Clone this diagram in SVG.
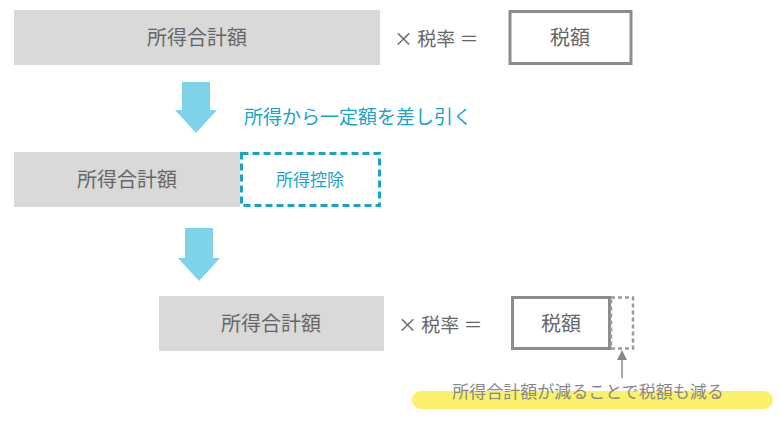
<svg xmlns="http://www.w3.org/2000/svg" width="780" height="430" viewBox="0 0 780 430">
<style>
text{font-family:"Noto Sans CJK JP","Noto Sans",sans-serif;}
.g{fill:#d9d9d9}
.t{fill:#666;font-size:20px;text-anchor:middle}
.op{fill:#666;font-size:19px}
.box{fill:#fff;stroke:#8c8c8c;stroke-width:3}
.arr{fill:#7fd3e8}
</style>
<rect width="780" height="430" fill="#fff"/>
<g id="row1">
<rect class="g" x="14" y="10" width="366" height="55"/>
<text class="t" x="197" y="45">所得合計額</text>
<text class="op" x="394" y="46">× 税率 ＝</text>
<rect class="box" x="510" y="11.5" width="121" height="52"/>
<text class="t" x="570" y="45">税額</text>
</g>
<g id="connectors">
<path class="arr" d="M182 82H210V110H217L196 133L175 110H182Z"/>
<path class="arr" d="M185 228H213V258H220L199 281L178 258H185Z"/>
<line x1="622" y1="378" x2="622" y2="356" stroke="#888" stroke-width="1.5"/>
<path d="M617 360L622 350L627 360Z" fill="#888"/>
</g>
<text x="244" y="124" fill="#1aa3c8" font-size="19">所得から一定額を差し引く</text>
<g id="row2">
<rect class="g" x="14" y="152" width="226" height="55"/>
<text class="t" x="127" y="187">所得合計額</text>
<rect x="241.5" y="153.5" width="138" height="52" fill="none" stroke="#1aa3c8" stroke-width="3" stroke-dasharray="7,4"/>
<text x="310" y="186" fill="#1aa3c8" font-size="17" text-anchor="middle">所得控除</text>
</g>
<g id="row3">
<rect class="g" x="159" y="296" width="225" height="55"/>
<text class="t" x="271" y="331">所得合計額</text>
<text class="op" x="398" y="332">× 税率 ＝</text>
<rect class="box" x="512.5" y="297.5" width="97" height="51"/>
<text class="t" x="561" y="331">税額</text>
<rect x="611" y="297.5" width="22" height="51" fill="none" stroke="#999" stroke-width="2.5" stroke-dasharray="4,3"/>
</g>
<g id="note">
<rect x="412" y="391" width="361" height="18" rx="9" fill="#faf06a"/>
<text x="588" y="398" fill="#888" font-size="17" text-anchor="middle">所得合計額が減ることで税額も減る</text>
</g>
</svg>
